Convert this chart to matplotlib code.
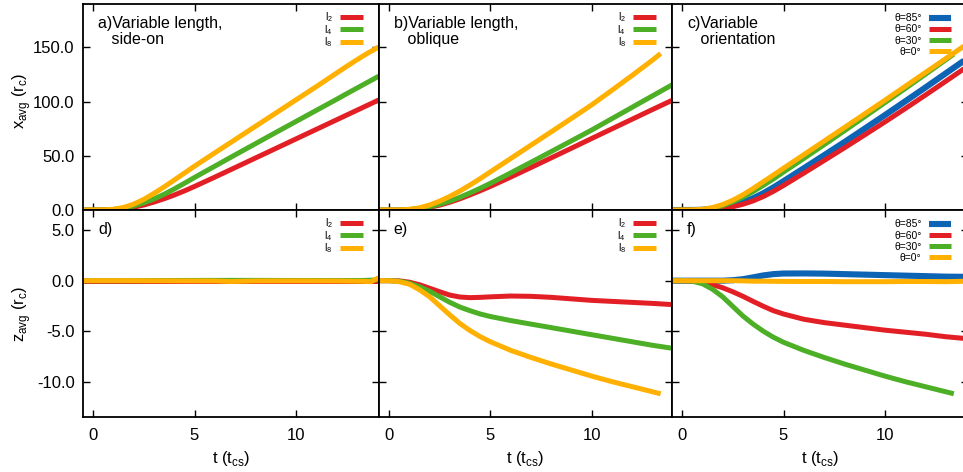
import matplotlib
matplotlib.use('Agg')
import matplotlib.pyplot as plt

# ── Data ──────────────────────────────────────────────────────────────────────
# panel a: variable length, side-on  (x_avg)
t_a  = [-0.5, 0, 0.5, 1, 1.5, 2, 2.5, 3, 3.5, 4, 4.5, 5, 6, 7, 8, 9, 10, 11, 12, 12.5, 13, 13.5, 14.1]
a_l2 = [0, 0, 0.05, 0.35, 1.15, 2.6, 4.6, 7.3, 10.4, 13.8, 17.6, 21.7, 30.3, 39.1, 47.9, 56.7,
        65.5, 74.3, 83.1, 87.5, 91.9, 96.3, 101.6]
a_l4 = [0, 0, 0.05, 0.5, 1.7, 3.7, 6.6, 10.2, 14.5, 19.4, 24.6, 30, 40.4, 50.8, 61.1, 71.4,
        81.6, 91.8, 102, 107.2, 112.3, 117.4, 123.5]
a_l8 = [0, 0, 0.1, 0.7, 2.3, 5.4, 9.8, 15.3, 21.3, 27.6, 34, 40.4, 52.7, 64.9, 77.1, 89.3,
        101.5, 113.7, 126.2, 132.4, 138.4, 144.2, 150.5]

# panel b: variable length, oblique  (x_avg)
t_b  = [-0.5, 0, 0.5, 1, 1.5, 2, 2.5, 3, 3.5, 4, 4.5, 5, 6, 7, 8, 9, 10, 11, 12, 13, 14]
b_l2 = [0, 0, 0.05, 0.3, 1.1, 2.5, 4.5, 7.2, 10.4, 14, 17.8, 21.8, 30.4, 39.2, 48.1, 57,
        66, 74.9, 83.8, 92.7, 101.5]
b_l4 = [0, 0, 0.05, 0.4, 1.4, 3.1, 5.4, 8.3, 11.8, 15.8, 20.1, 24.6, 34.2, 44, 53.9, 63.8,
        73.8, 84.3, 94.8, 105.3, 115.8]
t_b8 = [-0.5, 0, 0.5, 1, 1.5, 2, 2.5, 3, 3.5, 4, 4.5, 5, 6, 7, 8, 9, 10, 11, 12, 13, 13.4]
b_l8 = [0, 0, 0.1, 0.6, 2, 4.6, 8.2, 12.6, 17.6, 23.1, 29, 35.2, 47.5, 59.8, 72.1, 84.5,
        97, 110.5, 124.2, 138.3, 144.3]

# panel c: variable orientation  (x_avg)
t_c   = [-0.5, 0, 0.5, 1, 1.5, 2, 2.5, 3, 3.5, 4, 4.5, 5, 6, 7, 8, 9, 10, 11, 12, 13, 14]
c_85  = [0, 0, 0.02, 0.2, 0.8, 2, 4, 7, 10.8, 15.4, 20.8, 26.6, 38.5, 50.5, 62.6, 75,
         87.5, 100.2, 113, 126, 139]
c_60  = [0, 0, 0.02, 0.15, 0.6, 1.5, 3, 5.3, 8.4, 12.4, 17.2, 22.6, 34, 45.6, 57.3, 69.2,
         81.2, 93.5, 106, 118.7, 131.5]
c_0   = [0, 0, 0.1, 0.7, 2.2, 5, 9, 14, 19.8, 26, 32.2, 38.5, 51, 63.5, 76, 88.6,
         101.2, 114, 126.8, 139.6, 152.4]
t_c30 = [-0.5, 0, 0.5, 1, 1.5, 2, 2.5, 3, 3.5, 4, 4.5, 5, 6, 7, 8, 9, 10, 11, 12, 13, 13.4]
c_30  = [0, 0, 0.05, 0.5, 1.7, 4, 7.4, 11.8, 17, 22.7, 28.6, 35, 47.5, 60.2, 73, 86,
         99, 112, 125.2, 138.5, 143.8]

# panel d: variable length, side-on  (z_avg)
t_d  = [-0.5, 2, 4, 6, 6.8, 8, 10, 12, 13.3, 13.7, 14.1]
d_l2 = [0, 0, 0, 0, 0, 0, 0, 0, 0, 0, 0]
d_l4 = [0, 0, 0.02, 0.03, 0.03, 0.03, 0.02, 0.02, 0.02, 0.05, 0.1]
d_l8 = [0, 0, -0.02, -0.03, -0.08, -0.03, -0.02, -0.03, -0.06, -0.1, 0.3]

# panel e: variable length, oblique  (z_avg)
t_e  = [-0.5, 0, 0.5, 1, 1.5, 2, 2.5, 3, 3.5, 4, 4.5, 5, 6, 7, 8, 9, 10, 11, 12, 13, 14]
e_l2 = [0, 0, -0.02, -0.15, -0.4, -0.75, -1.1, -1.43, -1.62, -1.68, -1.65, -1.6, -1.52,
        -1.55, -1.65, -1.8, -1.95, -2.05, -2.15, -2.25, -2.37]
e_l4 = [0, 0, -0.05, -0.25, -0.6, -1.05, -1.6, -2.15, -2.62, -2.98, -3.3, -3.55, -3.95,
        -4.3, -4.65, -5.0, -5.35, -5.7, -6.05, -6.4, -6.7]
t_e8 = [-0.5, 0, 0.5, 1, 1.5, 2, 2.5, 3, 3.5, 4, 4.5, 5, 6, 7, 8, 9, 10, 11, 12, 13, 13.4]
e_l8 = [0, 0, -0.1, -0.35, -0.9, -1.6, -2.5, -3.4, -4.25, -4.95, -5.55, -6.05, -6.9,
        -7.6, -8.25, -8.85, -9.45, -10.0, -10.5, -11.0, -11.2]

# panel f: variable orientation  (z_avg)
t_f   = [-0.5, 0, 0.5, 1, 1.5, 2, 2.5, 3, 3.5, 4, 4.5, 5, 6, 7, 8, 9, 10, 11, 12, 13, 14.1]
f_85  = [0, 0, 0, 0, 0, 0, 0.05, 0.15, 0.33, 0.52, 0.65, 0.71, 0.72, 0.7, 0.65,
         0.6, 0.55, 0.5, 0.45, 0.4, 0.38]
f_60  = [0, 0, -0.03, -0.15, -0.4, -0.7, -1.1, -1.55, -2.05, -2.53, -2.97, -3.3, -3.82,
         -4.15, -4.4, -4.65, -4.9, -5.1, -5.3, -5.55, -5.75]
f_0   = [0, 0, 0, 0, 0, 0, 0, -0.02, -0.05, -0.05, -0.06, -0.07, -0.08, -0.08, -0.1,
         -0.1, -0.1, -0.08, -0.08, -0.1, -0.05]
t_f30 = [-0.5, 0, 0.5, 1, 1.5, 2, 2.5, 3, 3.5, 4, 4.5, 5, 6, 7, 8, 9, 10, 11, 12, 13, 13.4]
f_30  = [0, 0, -0.05, -0.3, -0.85, -1.6, -2.55, -3.5, -4.3, -5.0, -5.6, -6.1, -6.9,
         -7.6, -8.25, -8.85, -9.45, -10.0, -10.5, -11.0, -11.2]

len_labels   = [r'l$_\mathregular{2}$', r'l$_\mathregular{4}$', r'l$_\mathregular{8}$']
theta_labels = ['θ=85°', 'θ=60°', 'θ=30°', 'θ=0°']
x_ticks      = [0, 5, 10]
top_yticks   = [0, 50, 100, 150]
bot_yticks   = [5, 0, -5, -10]

# ── Style ─────────────────────────────────────────────────────────────────────
RED, GREEN, ORANGE, BLUE = '#e31f26', '#4caf26', '#ffb000', '#0e64b4'
LW = 3.6

plt.rcParams['font.family'] = ['Liberation Sans', 'DejaVu Sans']
plt.rcParams['mathtext.fontset'] = 'custom'
plt.rcParams['mathtext.rm'] = 'Liberation Sans'
plt.rcParams['axes.unicode_minus'] = False

W, H = 963, 472
fig = plt.figure(figsize=(W / 100, H / 100), dpi=100)

def box(x0, x1, y0, y1):
    # pixel box -> figure fraction
    return [x0 / W, 1 - y1 / H, (x1 - x0) / W, (y1 - y0) / H]

cols = [(83, 379, 14.1), (379, 672, 13.96), (672, 968, 14.1)]
axes = []
for (y0, y1) in [(4, 210), (210, 417)]:
    row = []
    for (x0, x1, xmax) in cols:
        ax = fig.add_axes(box(x0, x1, y0, y1))
        ax.set_xlim(-0.5, xmax)
        row.append(ax)
    axes.append(row)

(ax_a, ax_b, ax_c), (ax_d, ax_e, ax_f) = axes

# ── Curves ────────────────────────────────────────────────────────────────────
for ax, series in [
    (ax_a, [(t_a, a_l2, RED), (t_a, a_l4, GREEN), (t_a, a_l8, ORANGE)]),
    (ax_b, [(t_b, b_l2, RED), (t_b, b_l4, GREEN), (t_b8, b_l8, ORANGE)]),
    (ax_d, [(t_d, d_l2, RED), (t_d, d_l4, GREEN), (t_d, d_l8, ORANGE)]),
    (ax_e, [(t_e, e_l2, RED), (t_e, e_l4, GREEN), (t_e8, e_l8, ORANGE)]),
]:
    for (t, y, col), lab in zip(series, len_labels):
        ax.plot(t, y, color=col, lw=LW, label=lab, solid_capstyle='butt')

for ax, series in [
    (ax_c, [(t_c, c_85, BLUE), (t_c, c_60, RED), (t_c30, c_30, GREEN), (t_c, c_0, ORANGE)]),
    (ax_f, [(t_f, f_85, BLUE), (t_f, f_60, RED), (t_f30, f_30, GREEN), (t_f, f_0, ORANGE)]),
]:
    for (t, y, col), lab in zip(series, theta_labels):
        ax.plot(t, y, color=col, lw=LW + (0.8 if col == BLUE else 0), label=lab,
                solid_capstyle='butt')

# ── Axes cosmetics ────────────────────────────────────────────────────────────
for r, row in enumerate(axes):
    for c, ax in enumerate(row):
        ax.set_xticks(x_ticks)
        if r == 0:
            ax.set_ylim(0, 190)
            ax.set_yticks(top_yticks)
            ax.tick_params(labelbottom=False)
        else:
            ax.set_ylim(-13.5, 7)
            ax.set_yticks(bot_yticks)
            ax.set_xlabel(r't (t$_\mathregular{cs}$)', fontsize=12, labelpad=4)
        if c > 0:
            ax.tick_params(labelleft=False)
        ax.yaxis.set_major_formatter(plt.FormatStrFormatter('%.1f'))
        ax.tick_params(direction='in', top=True, right=True, length=5, width=1,
                       labelsize=12)
        ax.tick_params(axis='x', pad=8)
        ax.tick_params(axis='y', pad=6)
        for sp in ax.spines.values():
            sp.set_linewidth(1.3)
        if c == 2:
            ax.legend(loc='upper right', bbox_to_anchor=(1 - 11 / 296, 1 - 3 / 206),
                      frameon=False, markerfirst=False, fontsize=7.5,
                      handlelength=2.1, handletextpad=0.7, labelspacing=0.12,
                      borderaxespad=0.3, borderpad=0.3)
        else:
            ax.legend(loc='upper right', bbox_to_anchor=(1 - 12 / 296, 1 - 2 / 206),
                      frameon=False, markerfirst=False, fontsize=7.5,
                      handlelength=2.2, handletextpad=0.7, labelspacing=-0.1,
                      borderaxespad=0.2, borderpad=0.2)

ax_a.set_ylabel(r'x$_\mathregular{avg}$ (r$_\mathregular{c}$)', fontsize=12)
ax_d.set_ylabel(r'z$_\mathregular{avg}$ (r$_\mathregular{c}$)', fontsize=12)
ax_a.yaxis.set_label_coords(-0.17, 0.53)
ax_d.yaxis.set_label_coords(-0.17, 0.5)

# ── Panel labels ──────────────────────────────────────────────────────────────
for ax, txt in [(ax_a, 'a)Variable length,\n   side-on'),
                (ax_b, 'b)Variable length,\n   oblique'),
                (ax_c, 'c)Variable\n   orientation'),
                (ax_d, 'd)'), (ax_e, 'e)'), (ax_f, 'f)')]:
    ax.text(15 / 296, 1 - 12 / 206, txt, transform=ax.transAxes, ha='left', va='top',
            fontsize=11.5, linespacing=1.05)

fig.savefig('out.png', dpi=100)
